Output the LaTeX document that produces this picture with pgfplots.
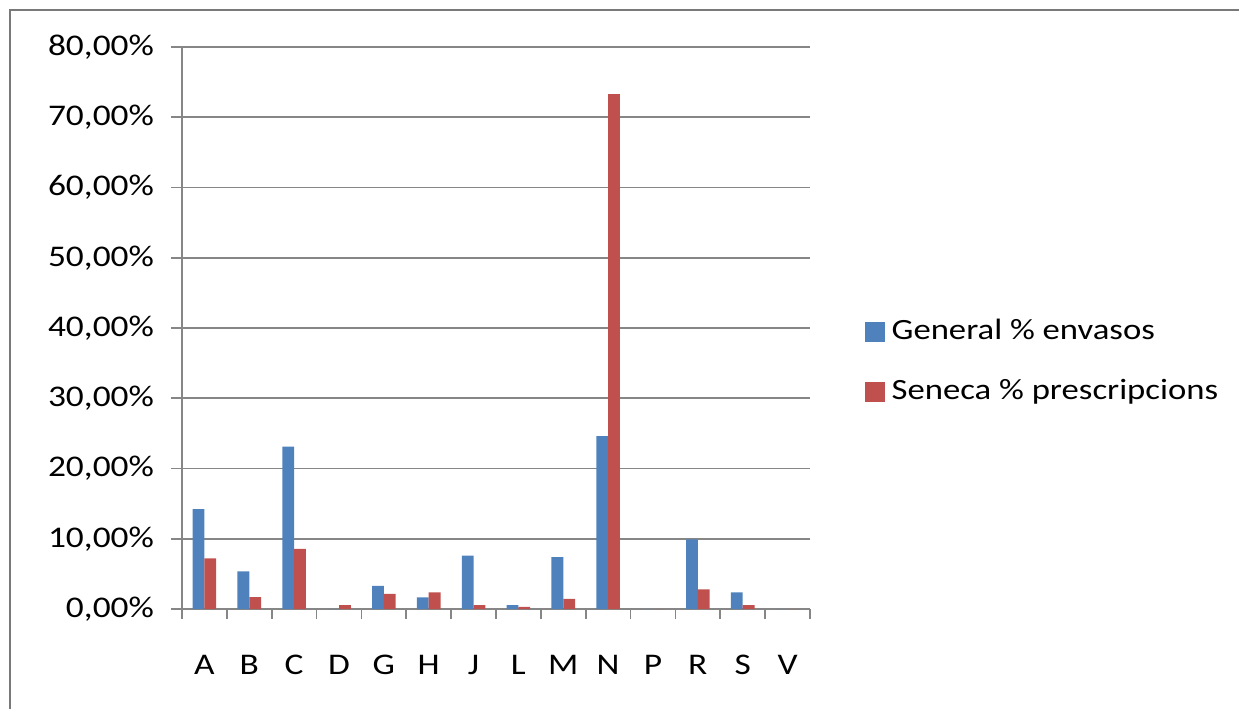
\documentclass[border=0pt]{standalone}
\usepackage{pgfplots}
\pgfplotsset{compat=1.18}
\usepackage{fontspec}
\setmainfont{Carlito}[FakeStretch=1.18]
\definecolor{serA}{HTML}{4F81BD}
\definecolor{serB}{HTML}{C0504D}
\definecolor{gridc}{HTML}{868686}
\begin{document}
\begin{tikzpicture}
\useasboundingbox (0,0) rectangle (619.5pt,354.5pt);
\draw[gridc!90!black, line width=1.4pt] (5pt,0pt) -- (5pt,349.5pt) -- (619.5pt,349.5pt);
\begin{axis}[
  at={(91pt,50pt)}, anchor=south west,
  scale only axis, width=314pt, height=281pt,
  font=\fontsize{15}{18}\selectfont,
  ybar, bar width=5.9pt,
  xmin=-0.5, xmax=13.5, ymin=0, ymax=80,
  axis x line*=bottom, axis y line*=left,
  axis line style={gridc, line width=0.8pt, -},
  xtick={0,1,2,3,4,5,6,7,8,9,10,11,12,13},
  xticklabels={A,B,C,D,G,H,J,L,M,N,P,R,S,V},
  major x tick style={draw=none},
  minor xtick={-0.5,0.5,...,13.5},
  minor tick length=5pt,
  minor x tick style={gridc, line width=0.8pt},
  xticklabel style={yshift=-14pt},
  ytick={0,10,...,80},
  yticklabels={{0,00\%},{10,00\%},{20,00\%},{30,00\%},{40,00\%},{50,00\%},{60,00\%},{70,00\%},{80,00\%}},
  major tick length=5.5pt,
  tick align=outside,
  major y tick style={gridc, line width=0.8pt},
  yticklabel style={xshift=-5pt},
  ymajorgrids, major grid style={gridc, line width=0.8pt},
  legend style={draw=none, fill=none, at={(1.0876,0.4395)}, anchor=west,
    inner sep=0pt, row sep=15pt, font=\fontsize{14.7}{18}\selectfont,
    nodes={inner sep=0pt, text height=11pt, text depth=4pt},
    /tikz/every odd column/.append style={column sep=3.5pt}},
  legend cell align=left,
  legend image code/.code={\fill[#1] (0pt,-4.8pt) rectangle (9.6pt,4.8pt);},
]
\addplot[fill=serA, draw=none, bar shift=-2.95pt] coordinates {
(0,14.2) (1,5.35) (2,23.1) (3,0) (4,3.3) (5,1.65) (6,7.6) (7,0.55) (8,7.4) (9,24.6) (10,0) (11,9.9) (12,2.35) (13,0)};
\addplot[fill=serB, draw=none, bar shift=2.95pt] coordinates {
(0,7.2) (1,1.7) (2,8.55) (3,0.55) (4,2.15) (5,2.35) (6,0.55) (7,0.3) (8,1.45) (9,73.3) (10,0) (11,2.8) (12,0.55) (13,0)};
\legend{General \% envasos, Seneca \% prescripcions}
\end{axis}
\end{tikzpicture}
\end{document}
